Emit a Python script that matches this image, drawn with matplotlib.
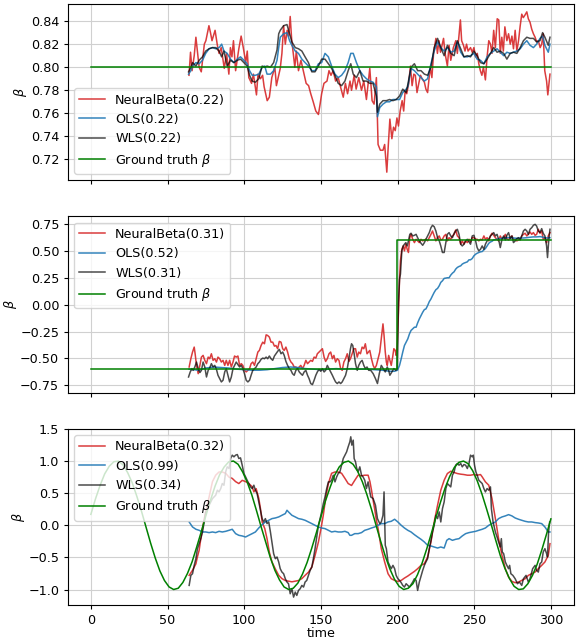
#!/usr/bin/env python3
"""Three stacked panels: estimated beta (NeuralBeta / OLS / WLS) vs ground truth over time."""

import matplotlib
matplotlib.use("Agg")
import matplotlib.pyplot as plt

OUT = "out.png"

# ---------------- panel 1: constant beta ----------------
P1_GT_T = [0, 300]
P1_GT = [0.80, 0.80]

P1_NB_T = [64, 65, 66, 67.4, 68.5, 69.5, 70.6, 72, 74, 75,
           77, 78, 79, 81, 82.5, 83.6, 85, 87, 88.5, 90,
           91, 92, 93, 94.4, 96.5, 98, 99.4, 101, 102, 103,
           104.8, 106, 108, 109, 110.6, 112, 113, 115, 116.4, 118,
           120, 121, 122.5, 123.5, 124.6, 125.7, 126.8, 128, 129, 130,
           131, 132, 133, 134, 135.4, 137, 138.7, 140.4, 142, 143.4,
           145, 146.7, 148.4, 149.5, 150.5, 152, 154, 155.3, 156.6, 158,
           159.6, 161.3, 162.8, 164.6, 166, 167.4, 169, 170, 171.7, 173,
           174.7, 176.5, 178, 179.7, 181.9, 183.4, 184.7, 186.2, 187.3, 188.8,
           190.5, 191.6, 193, 194, 195, 196.3, 197.4, 198.5, 199.6, 200.6,
           201.7, 203, 204, 205, 206, 207.3, 208.4, 209.5, 210.6, 211.6,
           212.7, 214, 215, 216, 217.5, 218.5, 219.6, 221.3, 222.4, 223.5,
           225, 226, 227, 228, 230, 231, 232.5, 233.6, 234.7, 236.4,
           238, 239, 240, 241, 241.8, 243, 244, 245, 246, 247.6,
           248.7, 249.8, 250.9, 252, 253, 254, 255, 256, 257.3, 258.4,
           259.5, 260.6, 261.6, 262.7, 263.8, 265, 266, 267, 268, 269,
           270, 271.3, 272.4, 273.5, 274.6, 275.6, 276.7, 277.8, 278.9, 280,
           281, 282, 283, 284.3, 285.3, 286.4, 287.5, 288.6, 289.7, 290.7,
           291.8, 293, 294, 295, 296, 297.2, 298, 299.4]
P1_NB = [0.793, 0.813, 0.797, 0.810, 0.826, 0.814, 0.800, 0.796, 0.820, 0.823,
         0.836, 0.830, 0.823, 0.832, 0.819, 0.812, 0.817, 0.799, 0.812, 0.794,
         0.817, 0.809, 0.823, 0.797, 0.816, 0.827, 0.817, 0.804, 0.814, 0.791,
         0.786, 0.794, 0.776, 0.794, 0.790, 0.793, 0.783, 0.771, 0.774, 0.791,
         0.800, 0.784, 0.793, 0.799, 0.812, 0.836, 0.820, 0.832, 0.827, 0.844,
         0.823, 0.812, 0.800, 0.814, 0.797, 0.806, 0.796, 0.786, 0.784, 0.777,
         0.770, 0.762, 0.759, 0.768, 0.777, 0.786, 0.788, 0.797, 0.793, 0.797,
         0.788, 0.791, 0.783, 0.774, 0.786, 0.777, 0.788, 0.780, 0.793, 0.781,
         0.791, 0.780, 0.788, 0.772, 0.799, 0.771, 0.768, 0.791, 0.733, 0.728,
         0.728, 0.733, 0.709, 0.733, 0.755, 0.738, 0.748, 0.745, 0.756, 0.749,
         0.762, 0.771, 0.762, 0.780, 0.777, 0.786, 0.801, 0.784, 0.794, 0.793,
         0.778, 0.787, 0.793, 0.790, 0.787, 0.781, 0.778, 0.800, 0.791, 0.812,
         0.825, 0.812, 0.823, 0.813, 0.825, 0.812, 0.801, 0.819, 0.806, 0.817,
         0.823, 0.812, 0.826, 0.841, 0.823, 0.819, 0.814, 0.820, 0.814, 0.817,
         0.813, 0.817, 0.809, 0.812, 0.803, 0.797, 0.793, 0.800, 0.789, 0.809,
         0.823, 0.820, 0.812, 0.832, 0.817, 0.842, 0.841, 0.812, 0.826, 0.814,
         0.835, 0.823, 0.829, 0.820, 0.827, 0.816, 0.832, 0.814, 0.823, 0.836,
         0.846, 0.843, 0.845, 0.848, 0.842, 0.839, 0.833, 0.829, 0.826, 0.822,
         0.823, 0.817, 0.820, 0.829, 0.797, 0.788, 0.776, 0.794]

P1_LS_T = [63.7, 65.2, 66.3, 68.5, 70.6, 72.8, 74.9, 77.1, 79.3, 81.4,
           83.6, 85.3, 86.8, 88.9, 91.1, 93.3, 95.5, 97.6, 99.8, 101.9,
           103.5, 105.2, 107.3, 109.5, 111.7, 113.4, 114.9, 117.1, 119.2, 121.4,
           122.5, 123.5, 125.7, 127.9, 129.6, 131.1, 133.3, 135.4, 137.6, 139.7,
           141.9, 144.1, 146.2, 148.4, 150.5, 152.7, 154.9, 157.0, 159.2, 161.3,
           163.5, 165.7, 167.8, 169.5, 171.1, 173.2, 175.4, 177.5, 179.7, 181.9,
           184.0, 186.2, 186.9, 188.4, 190.5, 192.7, 194.8, 197.0, 199.1, 201.3,
           203.4, 205.6, 206.7, 208.8, 211.0, 213.1, 215.3, 217.5, 219.6, 221.8,
           223.9, 226.1, 228.2, 230.4, 232.5, 234.7, 236.9, 239.0, 241.2, 243.3,
           245.5, 247.6, 249.8, 251.9, 254.1, 256.3, 258.4, 260.6, 262.7, 264.9,
           267.0, 269.2, 271.3, 273.5, 275.6, 277.8, 280.0, 282.1, 284.3, 286.4,
           288.6, 290.7, 292.9, 294.6, 296.1, 298.3, 299.4]
P1_OLS = [0.794, 0.797, 0.801, 0.804, 0.803, 0.806, 0.812, 0.816, 0.817, 0.816,
          0.817, 0.820, 0.814, 0.812, 0.807, 0.804, 0.807, 0.809, 0.806, 0.803,
          0.797, 0.793, 0.793, 0.794, 0.800, 0.801, 0.794, 0.794, 0.797, 0.806,
          0.817, 0.826, 0.829, 0.830, 0.823, 0.819, 0.814, 0.812, 0.807, 0.804,
          0.801, 0.797, 0.797, 0.803, 0.804, 0.812, 0.809, 0.801, 0.794, 0.791,
          0.793, 0.797, 0.804, 0.812, 0.812, 0.804, 0.797, 0.793, 0.790, 0.788,
          0.787, 0.783, 0.757, 0.765, 0.768, 0.770, 0.770, 0.772, 0.772, 0.772,
          0.778, 0.781, 0.783, 0.799, 0.797, 0.794, 0.791, 0.788, 0.790, 0.803,
          0.814, 0.822, 0.817, 0.814, 0.817, 0.813, 0.814, 0.822, 0.813, 0.809,
          0.809, 0.810, 0.812, 0.807, 0.806, 0.803, 0.809, 0.812, 0.814, 0.816,
          0.813, 0.810, 0.813, 0.812, 0.813, 0.814, 0.816, 0.820, 0.823, 0.819,
          0.817, 0.820, 0.825, 0.827, 0.819, 0.813, 0.820]
P1_WLS = [0.796, 0.800, 0.804, 0.801, 0.806, 0.809, 0.814, 0.816, 0.817, 0.817,
          0.814, 0.809, 0.814, 0.801, 0.806, 0.804, 0.806, 0.807, 0.804, 0.801,
          0.793, 0.788, 0.787, 0.790, 0.801, 0.800, 0.801, 0.800, 0.804, 0.815,
          0.829, 0.832, 0.836, 0.837, 0.829, 0.822, 0.817, 0.816, 0.814, 0.809,
          0.804, 0.796, 0.796, 0.801, 0.807, 0.807, 0.803, 0.799, 0.793, 0.786,
          0.784, 0.788, 0.797, 0.803, 0.794, 0.791, 0.797, 0.788, 0.788, 0.786,
          0.786, 0.775, 0.761, 0.768, 0.771, 0.771, 0.772, 0.771, 0.772, 0.775,
          0.781, 0.778, 0.785, 0.800, 0.803, 0.797, 0.797, 0.794, 0.793, 0.800,
          0.817, 0.825, 0.817, 0.810, 0.819, 0.812, 0.810, 0.823, 0.816, 0.809,
          0.810, 0.809, 0.814, 0.810, 0.804, 0.803, 0.807, 0.812, 0.817, 0.813,
          0.814, 0.812, 0.807, 0.812, 0.813, 0.812, 0.817, 0.823, 0.826, 0.825,
          0.825, 0.822, 0.823, 0.830, 0.826, 0.819, 0.826]

# ---------------- panel 2: step change ----------------
P2_GT_T = [0, 199.8, 199.8, 300]
P2_GT = [-0.60, -0.60, 0.60, 0.60]

P2_NB_T = [64.1, 65.2, 66.3, 67.4, 68.0, 68.9, 70.0, 71.1, 72.1, 73.2,
           74.3, 75.4, 76.5, 77.5, 78.6, 79.7, 80.8, 81.9, 82.9, 84.0,
           85.1, 86.2, 87.3, 88.3, 89.4, 90.5, 91.6, 92.7, 93.7, 94.8,
           95.9, 97.0, 98.1, 99.1, 100.2, 101.3, 102.4, 103.5, 104.5, 105.6,
           106.7, 107.8, 108.9, 109.9, 111.0, 112.1, 113.2, 114.3, 115.3, 116.4,
           117.5, 118.6, 119.7, 120.7, 121.8, 122.9, 124.0, 125.1, 126.1, 127.2,
           128.3, 129.4, 130.5, 131.5, 132.6, 133.7, 134.8, 135.9, 136.9, 138.0,
           139.1, 140.2, 141.3, 142.3, 143.4, 144.5, 145.6, 146.7, 147.7, 148.8,
           149.9, 151.0, 152.1, 153.1, 154.2, 155.3, 156.4, 157.5, 158.5, 159.6,
           160.7, 161.8, 162.9, 163.9, 165.0, 166.1, 167.2, 168.3, 169.3, 170.4,
           171.5, 172.6, 173.7, 174.7, 175.8, 176.9, 178.0, 179.0, 180.1,
           181.9, 183.0, 184.1, 185.1, 186.2, 187.3, 188.4, 189.4, 190.5, 191.2,
           192.0, 192.7, 193.3, 194.2, 195.0, 195.9, 196.8, 197.6, 198.5, 199.1,
           199.8, 200.6, 201.3, 201.9, 202.8, 203.7, 204.5, 205.4, 206.3, 207.1,
           208.0, 208.8, 209.9, 211.0, 212.1, 213.1, 214.2, 215.3, 216.4, 217.5,
           218.5, 219.6, 220.7, 221.8, 222.8, 223.9, 225.0, 226.1, 227.2, 228.2,
           229.3, 230.4, 231.5, 232.5, 233.6, 234.7, 235.8, 236.9, 237.9, 239.0,
           240.1, 241.2, 242.2, 243.3, 244.4, 245.5, 246.6, 247.6, 248.7, 249.8,
           250.9, 251.9, 253.0, 254.1, 255.2, 256.3, 257.3, 258.4, 259.5, 260.6,
           261.6, 262.7, 263.8, 264.9, 265.9, 267.0, 268.1, 269.2, 270.3, 271.3,
           272.4, 273.5, 274.6, 275.6, 276.7, 277.8, 278.9, 280.0, 281.0, 282.1,
           283.2, 284.3, 285.3, 286.4, 287.5, 288.6, 289.7, 290.7, 291.8, 292.9,
           294.0, 295.0, 296.1, 297.2, 298.3, 299.4]
P2_NB = [-0.580, -0.503, -0.441, -0.395, -0.457, -0.565, -0.642, -0.565, -0.488, -0.472,
         -0.518, -0.549, -0.488, -0.503, -0.457, -0.518, -0.503, -0.534, -0.488, -0.503,
         -0.534, -0.518, -0.565, -0.518, -0.565, -0.518, -0.580, -0.534, -0.478, -0.488,
         -0.478, -0.565, -0.549, -0.565, -0.611, -0.626, -0.611, -0.595, -0.549, -0.534,
         -0.565, -0.503, -0.441, -0.426, -0.380, -0.349, -0.364, -0.281, -0.287, -0.302,
         -0.349, -0.349, -0.386, -0.380, -0.410, -0.342, -0.349, -0.410, -0.426, -0.395,
         -0.441, -0.503, -0.534, -0.549, -0.580, -0.580, -0.595, -0.580, -0.565, -0.595,
         -0.565, -0.518, -0.549, -0.534, -0.518, -0.528, -0.488, -0.497, -0.457, -0.441,
         -0.426, -0.410, -0.488, -0.528, -0.503, -0.457, -0.441, -0.503, -0.472, -0.534,
         -0.503, -0.518, -0.595, -0.611, -0.534, -0.503, -0.457, -0.528, -0.503, -0.457,
         -0.410, -0.410, -0.488, -0.441, -0.457, -0.395, -0.410, -0.364, -0.457,
         -0.426, -0.503, -0.565, -0.595, -0.565, -0.503, -0.441, -0.318, -0.179, -0.287,
         -0.441, -0.534, -0.565, -0.472, -0.518, -0.565, -0.488, -0.410, -0.426, -0.472,
         -0.380, -0.070, 0.238, 0.407, 0.515, 0.546, 0.500, 0.562, 0.515, 0.485,
         0.623, 0.654, 0.608, 0.577, 0.608, 0.593, 0.577, 0.608, 0.593, 0.602,
         0.608, 0.593, 0.623, 0.654, 0.685, 0.639, 0.593, 0.623, 0.639, 0.602,
         0.608, 0.639, 0.654, 0.593, 0.623, 0.608, 0.639, 0.654, 0.694, 0.639,
         0.623, 0.562, 0.593, 0.562, 0.593, 0.577, 0.608, 0.583, 0.623, 0.623,
         0.608, 0.608, 0.593, 0.608, 0.602, 0.639, 0.608, 0.623, 0.593, 0.639,
         0.664, 0.645, 0.623, 0.608, 0.593, 0.639, 0.608, 0.623, 0.654, 0.614,
         0.602, 0.623, 0.639, 0.608, 0.602, 0.593, 0.602, 0.608, 0.639, 0.654,
         0.664, 0.639, 0.654, 0.676, 0.654, 0.670, 0.645, 0.654, 0.701, 0.664,
         0.685, 0.608, 0.623, 0.577, 0.639, 0.670]

P2_OLS_T = [64, 70, 75, 80, 85, 90, 95, 100, 105, 110,
            115, 120, 125, 130, 135, 140, 145, 150, 155, 160,
            165, 170, 175, 180, 185, 190, 195, 198, 200, 201.3,
            202.4, 203.4, 204.5, 205.6, 206.7, 207.8, 208.8, 209.9, 211.0, 212.1,
            213.1, 214.2, 215.3, 216.4, 217.5, 218.5, 219.6, 220.7, 221.8, 222.8,
            223.9, 225.0, 226.1, 227.2, 228.2, 229.3, 230.4, 231.5, 232.5, 233.6,
            234.7, 235.8, 236.9, 237.9, 239.0, 240.1, 241.2, 242.2, 243.3, 244.4,
            245.5, 246.6, 247.6, 248.7, 249.8, 250.9, 251.9, 253.0, 254.1, 255.2,
            256.3, 257.3, 258.4, 259.5, 260.6, 261.6, 262.7, 264.9, 267.0, 269.2,
            271.3, 273.5, 275.6, 277.8, 280.0, 282.1, 284.3, 286.4, 288.6, 290.7,
            292.9, 295.0, 297.2, 299.4]
P2_OLS = [-0.600, -0.610, -0.590, -0.580, -0.585, -0.590, -0.600, -0.605, -0.610, -0.610,
          -0.605, -0.595, -0.585, -0.580, -0.585, -0.595, -0.600, -0.605, -0.600, -0.595,
          -0.600, -0.595, -0.600, -0.600, -0.605, -0.610, -0.620, -0.620, -0.610, -0.565,
          -0.503, -0.441, -0.380, -0.349, -0.318, -0.271, -0.240, -0.225, -0.210, -0.210,
          -0.170, -0.133, -0.102, -0.071, -0.046, -0.040, -0.009, 0.028, 0.053, 0.083,
          0.114, 0.139, 0.151, 0.176, 0.207, 0.222, 0.244, 0.247, 0.250, 0.250,
          0.275, 0.293, 0.306, 0.330, 0.346, 0.355, 0.361, 0.377, 0.386, 0.392,
          0.398, 0.417, 0.417, 0.429, 0.454, 0.469, 0.478, 0.485, 0.491, 0.494,
          0.509, 0.522, 0.546, 0.571, 0.583, 0.589, 0.602, 0.608, 0.614, 0.620,
          0.623, 0.623, 0.620, 0.617, 0.620, 0.620, 0.623, 0.627, 0.630, 0.630,
          0.633, 0.627, 0.620, 0.623]

P2_WLS_T = [63.7, 64.8, 65.9, 66.7, 67.8, 68.9, 70.0, 71.1, 72.1, 73.2,
            74.3, 75.4, 76.5, 77.5, 78.6, 79.7, 80.8, 81.9, 82.9, 84.0,
            85.1, 86.2, 87.3, 88.3, 89.4, 90.5, 91.6, 92.7, 93.7, 94.8,
            95.9, 97.0, 98.1, 99.1, 100.2, 101.3, 102.4, 103.5, 104.5, 105.6,
            106.7, 107.8, 108.9, 109.9, 111.0, 112.1, 113.2, 114.3, 115.3, 116.4,
            117.5, 118.6, 119.7, 120.7, 121.8, 122.9, 124.0, 125.1, 126.1, 127.2,
            128.3, 129.4, 130.5, 131.5, 132.6, 133.7, 134.8, 135.9, 136.9, 138.0,
            139.1, 140.2, 141.3, 142.3, 143.4, 144.5, 145.6, 146.7, 147.7, 148.8,
            149.9, 151.0, 152.1, 153.1, 154.2, 155.3, 156.4, 157.5, 158.5, 159.6,
            160.7, 161.8, 162.9, 163.9, 165.0, 166.1, 167.2, 168.3, 169.3, 170.0,
            170.8, 171.7, 172.6, 173.7, 174.7, 175.8, 176.9, 178.0, 179.0, 180.1,
            181.2,
            182.5, 184.1, 185.6, 186.9, 188.1, 189.4, 190.7, 192.0, 193.3, 194.2,
            195.0, 196.3, 197.6, 198.9, 199.8, 200.6, 201.3, 201.9, 202.8, 203.7,
            204.5, 205.4, 206.3, 207.1, 208.0, 208.8, 209.9, 211.0, 212.1, 213.1,
            214.2, 215.3, 216.4, 217.5, 218.5, 219.6, 220.7, 221.8, 222.8, 223.9,
            225.0, 226.1, 227.2, 228.2, 229.3, 230.4, 231.5, 232.5, 233.6, 234.7,
            235.8, 236.9, 237.9, 239.0, 240.1, 241.2, 242.2, 243.3, 244.4, 245.5,
            246.6, 247.6, 248.7, 249.8, 250.9, 251.9, 253.0, 254.1, 255.2, 256.3,
            257.3, 258.4, 259.5, 260.6, 261.6, 262.7, 263.8, 264.9, 265.9, 267.0,
            268.1, 269.2, 270.3, 271.3, 272.4, 273.5, 274.6, 275.6, 276.7, 277.8,
            278.9, 280.0, 281.0, 282.1, 283.2, 284.3, 285.3, 286.4, 287.5, 288.6,
            289.7, 290.7, 291.8, 292.9, 294.0, 295.0, 296.1, 297.2, 297.8, 298.5,
            299.4]
P2_WLS = [-0.673, -0.626, -0.595, -0.611, -0.580, -0.534, -0.595, -0.632, -0.611, -0.534,
          -0.580, -0.673, -0.611, -0.589, -0.549, -0.580, -0.565, -0.602, -0.657, -0.688,
          -0.719, -0.703, -0.626, -0.595, -0.657, -0.719, -0.673, -0.595, -0.565, -0.534,
          -0.558, -0.580, -0.565, -0.595, -0.642, -0.703, -0.719, -0.703, -0.657, -0.611,
          -0.595, -0.580, -0.549, -0.534, -0.509, -0.497, -0.503, -0.488, -0.503, -0.478,
          -0.503, -0.518, -0.478, -0.457, -0.435, -0.416, -0.457, -0.441, -0.472, -0.528,
          -0.565, -0.595, -0.611, -0.642, -0.657, -0.611, -0.595, -0.626, -0.642, -0.657,
          -0.626, -0.611, -0.657, -0.688, -0.734, -0.744, -0.703, -0.657, -0.626, -0.602,
          -0.620, -0.595, -0.626, -0.611, -0.565, -0.595, -0.626, -0.657, -0.688, -0.719,
          -0.734, -0.719, -0.734, -0.719, -0.688, -0.657, -0.595, -0.503, -0.410, -0.364,
          -0.380, -0.457, -0.549, -0.611, -0.565, -0.534, -0.518, -0.565, -0.595, -0.580,
          -0.611,
          -0.611, -0.642, -0.688, -0.734, -0.642, -0.565, -0.595, -0.626, -0.580, -0.611,
          -0.657, -0.626, -0.595, -0.611, -0.595, 0.020, 0.238, 0.284, 0.500, 0.546,
          0.562, 0.577, 0.546, 0.593, 0.654, 0.664, 0.639, 0.645, 0.654, 0.623,
          0.593, 0.571, 0.552, 0.577, 0.608, 0.639, 0.670, 0.716, 0.738, 0.725,
          0.685, 0.623, 0.593, 0.546, 0.485, 0.485, 0.577, 0.654, 0.670, 0.639,
          0.623, 0.664, 0.685, 0.701, 0.654, 0.562, 0.546, 0.562, 0.593, 0.608,
          0.583, 0.562, 0.639, 0.645, 0.593, 0.531, 0.500, 0.515, 0.546, 0.515,
          0.562, 0.593, 0.608, 0.639, 0.654, 0.670, 0.639, 0.654, 0.608, 0.531,
          0.608, 0.639, 0.602, 0.645, 0.670, 0.614, 0.639, 0.577, 0.593, 0.614,
          0.623, 0.602, 0.639, 0.685, 0.701, 0.685, 0.654, 0.701, 0.716, 0.738,
          0.747, 0.731, 0.685, 0.670, 0.707, 0.664, 0.639, 0.546, 0.438, 0.577,
          0.701]

# ---------------- panel 3: sinusoidal beta ----------------
P3_GT_T = list(range(0, 301, 3))
P3_GT = [0.17, 0.41, 0.62, 0.80, 0.92, 0.99, 1.00, 0.94, 0.82, 0.66,
         0.45, 0.22, -0.03, -0.28, -0.51, -0.71, -0.86, -0.96, -1.00, -0.98,
         -0.89, -0.75, -0.57, -0.34, -0.10, 0.15, 0.39, 0.61, 0.79, 0.91,
         0.99, 1.00, 0.95, 0.83, 0.67, 0.47, 0.23, -0.02, -0.26, -0.50,
         -0.70, -0.85, -0.96, -1.00, -0.98, -0.90, -0.76, -0.58, -0.36, -0.12,
         0.13, 0.38, 0.59, 0.78, 0.91, 0.98, 1.00, 0.95, 0.84, 0.68,
         0.48, 0.25, 0.00, -0.25, -0.48, -0.68, -0.84, -0.95, -1.00, -0.98,
         -0.91, -0.77, -0.59, -0.37, -0.13, 0.12, 0.36, 0.58, 0.76, 0.90,
         0.98, 1.00, 0.96, 0.85, 0.69, 0.49, 0.26, 0.02, -0.23, -0.47,
         -0.67, -0.83, -0.95, -1.00, -0.99, -0.91, -0.78, -0.61, -0.39, -0.15,
         0.10]

P3_NB_T = [64.1, 66.3, 68.5, 69.5, 70.6, 71.7, 72.8, 73.9, 74.9, 77.1,
           79.3, 81.4, 83.6, 85.7, 87.9, 90.1, 92.2, 94.4, 96.5, 98.7,
           100.9, 103.0, 105.2, 106.3, 107.8, 109.5, 110.6, 111.7, 113.4, 114.9,
           116.4, 118.1, 120.3, 122.5, 124.6, 126.8, 128.9, 131.1, 133.3, 135.4,
           137.6, 139.7, 141.9, 144.1, 146.2, 148.4, 150.1, 151.6, 153.1, 154.9,
           157.0, 159.2, 161.3, 163.5, 165.7, 167.8, 170.0, 172.1, 174.3, 176.5,
           178.6, 180.8, 182.0, 183.0, 184.0, 185.1, 186.2, 187.3,
           189.4, 191.6, 193.8, 195.9, 198.1, 200.2, 202.4, 204.5, 206.7, 208.8,
           211.0, 213.1, 215.3, 217.5, 219.6, 221.8, 223.9, 226.1, 228.2, 230.4,
           232.5, 234.7, 236.9, 239.0, 241.2, 243.3, 245.5, 247.6, 249.8, 251.9,
           254.1, 255.2, 257.3, 259.5, 261.6, 263.8, 265.9, 268.1, 270.3, 272.4,
           274.6, 276.7, 278.9, 281.0, 283.2, 285.3, 287.5, 289.7, 291.8, 294.0,
           296.1, 298.3, 299.4]
P3_NB = [-0.78, -0.70, -0.60, -0.49, -0.39, -0.21, -0.05, 0.10, 0.21, 0.44,
         0.68, 0.78, 0.83, 0.83, 0.81, 0.75, 0.73, 0.68, 0.65, 0.70,
         0.68, 0.65, 0.60, 0.52, 0.57, 0.42, 0.26, 0.05, -0.05, -0.21,
         -0.42, -0.57, -0.68, -0.78, -0.83, -0.86, -0.87, -0.88, -0.87, -0.86,
         -0.83, -0.78, -0.73, -0.65, -0.47, -0.26, -0.05, 0.16, 0.42, 0.65,
         0.81, 0.83, 0.83, 0.81, 0.73, 0.65, 0.62, 0.70, 0.78, 0.77,
         0.78, 0.78, 0.68, 0.55, 0.40, 0.25, 0.08, -0.05,
         -0.364, -0.572, -0.754, -0.832, -0.858, -0.874, -0.858, -0.822, -0.790, -0.754,
         -0.718, -0.676, -0.624, -0.598, -0.494, -0.260, 0.052, 0.312, 0.546, 0.702,
         0.806, 0.842, 0.822, 0.806, 0.796, 0.790, 0.780, 0.780, 0.790, 0.780,
         0.790, 0.754, 0.676, 0.624, 0.416, 0.104, -0.208, -0.468, -0.676, -0.806,
         -0.874, -0.894, -0.884, -0.858, -0.832, -0.780, -0.754, -0.728, -0.676, -0.624,
         -0.572, -0.468, -0.286]

P3_OLS_T = [64.1, 66.3, 68.5, 70.6, 72.8, 74.9, 77.1, 79.3, 81.4, 83.6,
            85.7, 87.9, 90.1, 92.2, 94.4, 96.5, 98.7, 100.9, 103.0, 105.2,
            107.3, 109.5, 111.7, 113.8, 116.0, 118.1, 120.3, 122.5, 124.6, 126.8,
            127.9, 128.9, 131.1, 133.3, 135.4, 137.6, 139.7, 141.9, 144.1, 146.2,
            148.4, 150.5, 152.7, 154.9, 157.0, 159.2, 161.3, 163.5, 165.7, 167.8,
            168.9, 170.0, 172.1, 174.3, 176.5, 178.6, 180.8,
            183.0, 185.1, 187.3, 189.4, 191.6, 193.8, 195.9, 198.1, 200.2, 202.4,
            204.5, 206.7, 208.8, 211.0, 213.1, 215.3, 217.5, 219.6, 221.8, 223.9,
            226.1, 228.2, 230.4, 232.1, 233.6, 235.8, 237.9, 240.1, 242.2, 244.4,
            246.6, 248.7, 250.9, 253.0, 255.2, 257.3, 259.5, 261.6, 263.8, 265.9,
            268.1, 270.3, 272.4, 274.6, 276.7, 278.9, 281.0, 283.2, 285.3, 287.5,
            289.7, 291.8, 294.0, 296.1, 298.3, 299.4]
P3_OLS = [0.052, -0.026, -0.062, -0.078, -0.104, -0.104, -0.114, -0.104, -0.114, -0.094,
          -0.104, -0.094, -0.078, -0.062, -0.130, -0.156, -0.166, -0.182, -0.156, -0.130,
          -0.104, -0.042, 0.010, 0.052, 0.078, 0.104, 0.114, 0.130, 0.156, 0.182,
          0.234, 0.208, 0.156, 0.130, 0.104, 0.094, 0.078, 0.052, 0.026, 0.000,
          -0.026, -0.042, -0.052, -0.078, -0.104, -0.094, -0.104, -0.104, -0.094, -0.114,
          -0.156, -0.156, -0.130, -0.130, -0.114, -0.078, -0.062,
          -0.042, -0.026, 0.000, 0.026, 0.026, 0.052, 0.062, 0.094, 0.052, 0.000,
          -0.042, -0.078, -0.104, -0.146, -0.182, -0.218, -0.260, -0.312, -0.322, -0.338,
          -0.354, -0.338, -0.354, -0.234, -0.208, -0.234, -0.218, -0.208, -0.166, -0.130,
          -0.114, -0.104, -0.094, -0.078, -0.062, -0.042, 0.000, 0.026, 0.052, 0.104,
          0.130, 0.146, 0.166, 0.146, 0.114, 0.094, 0.078, 0.062, 0.052, 0.052,
          0.042, 0.036, 0.026, -0.026, -0.104, -0.104]

P3_WLS_T = [64.1, 65.2, 66.3, 67.4, 68.5, 69.5, 70.6, 71.7, 72.8, 73.9,
            74.9, 77.1, 79.3, 81.4, 82.5, 83.6, 84.7, 85.7, 86.8, 87.9,
            88.9, 90.1, 91.1, 92.2, 93.3, 94.4, 95.5, 96.5, 97.6, 98.7,
            99.8, 100.9, 101.9, 103.0, 104.1, 105.2, 106.3, 107.3, 108.4, 109.5,
            110.6, 111.7, 112.7, 113.8, 114.9, 116.0, 117.1, 118.1, 119.2, 120.3,
            121.4, 122.5, 123.5, 124.6, 125.7, 126.8, 127.9, 128.9, 130.0, 131.1,
            132.2, 133.3, 134.3, 135.4, 136.5, 137.6, 138.7, 139.7, 140.8, 141.9,
            143.0, 144.1, 145.1, 146.2, 147.3, 148.4, 149.5, 150.5, 151.6, 152.7,
            153.8, 154.9, 156.0, 157.0, 158.1, 159.2, 160.3, 161.3, 162.4, 163.5,
            164.6, 165.7, 166.8, 167.8, 168.9, 169.5, 170.2, 171.1, 171.7, 172.6,
            173.4, 174.3, 175.4, 176.5, 177.5, 178.6, 179.7, 180.8,
            182.5, 184.1, 185.6, 186.9, 188.4, 189.4, 190.5, 191.2, 192.0, 192.7,
            193.8, 194.8, 195.9, 197.0, 198.1, 199.1, 200.2, 201.3, 202.4, 203.4,
            204.5, 205.6, 206.7, 207.8, 208.8, 209.9, 211.0, 212.1, 213.1, 214.2,
            215.3, 216.4, 217.5, 218.5, 219.6, 220.7, 221.8, 222.8, 223.9, 225.0,
            226.1, 227.2, 228.2, 229.3, 230.4, 231.5, 232.5, 233.6, 234.7, 235.8,
            236.9, 237.9, 239.0, 240.1, 241.2, 242.2, 243.3, 244.4, 245.5, 246.6,
            247.6, 248.7, 249.4, 250.2, 251.1, 251.9, 253.0, 254.1, 255.2, 256.3,
            257.3, 258.4, 259.5, 260.6, 261.2, 262.3, 263.8, 264.9, 265.9, 267.0,
            267.7, 268.3, 269.2, 270.3, 271.3, 272.4, 273.1, 273.9, 275.2, 276.7,
            278.2, 279.5, 281.0, 282.1, 283.8, 285.3, 286.4, 288.1, 289.7, 290.7,
            291.8, 292.9, 294.0, 295.0, 296.1, 297.2, 297.8, 298.5, 299.2]
P3_WLS = [-0.936, -0.780, -0.754, -0.624, -0.520, -0.364, -0.286, -0.208, -0.104, 0.052,
          0.208, 0.312, 0.416, 0.468, 0.546, 0.520, 0.572, 0.650, 0.624, 0.832,
          0.910, 0.884, 1.040, 1.092, 1.066, 1.092, 1.102, 1.040, 1.050, 0.936,
          0.806, 0.754, 0.702, 0.650, 0.598, 0.572, 0.624, 0.546, 0.494, 0.364,
          0.234, 0.104, 0.052, 0.104, 0.026, 0.052, -0.104, -0.260, -0.442, -0.520,
          -0.494, -0.572, -0.676, -0.728, -0.754, -0.832, -0.884, -0.910, -1.066, -0.988,
          -1.118, -1.040, -1.092, -1.014, -0.988, -0.936, -0.962, -0.884, -0.858, -0.780,
          -0.702, -0.650, -0.520, -0.364, -0.182, 0.000, 0.104, 0.208, 0.338, 0.442,
          0.572, 0.676, 0.676, 0.702, 0.780, 0.676, 0.754, 0.806, 0.832, 0.936,
          1.040, 1.092, 1.144, 1.222, 1.300, 1.378, 1.248, 1.326, 1.040, 0.988,
          0.884, 0.832, 0.910, 0.780, 0.754, 0.702, 0.572, 0.676,
          0.442, 0.416, 0.312, 0.104, 0.026, 0.052, 0.156, 0.520, -0.312, -0.364,
          -0.572, -0.624, -0.676, -0.624, -0.676, -0.780, -0.832, -0.858, -0.894, -0.936,
          -0.962, -0.910, -0.936, -0.962, -0.926, -0.884, -0.832, -0.858, -1.014, -0.884,
          -0.790, -0.702, -0.624, -0.572, -0.520, -0.364, -0.234, -0.104, 0.000, 0.156,
          0.104, 0.208, 0.052, 0.260, 0.364, 0.572, 0.650, 0.624, 0.598, 0.780,
          0.832, 0.936, 0.962, 0.936, 0.962, 0.910, 0.946, 0.936, 0.884, 0.962,
          1.092, 1.066, 1.092, 0.936, 0.832, 0.780, 0.702, 0.676, 0.650, 0.572,
          0.520, 0.572, 0.546, 0.598, 0.260, 0.052, -0.104, -0.182, -0.260, -0.338,
          -0.208, -0.416, -0.442, -0.572, -0.624, -0.676, -0.624, -0.754, -0.780, -0.832,
          -0.910, -0.884, -0.936, -0.832, -0.780, -0.884, -0.832, -0.676, -0.624, -0.702,
          -0.728, -0.598, -0.572, -0.416, -0.364, -0.442, -0.494, -0.104, 0.052]

# legend scores per panel: (NeuralBeta, OLS, WLS)
SCORES = [("0.22", "0.22", "0.22"), ("0.31", "0.52", "0.31"), ("0.32", "0.99", "0.34")]
LEGEND_LOC = ["lower left", "upper left", "upper left"]
Y_TICKS = [
    [0.72, 0.74, 0.76, 0.78, 0.80, 0.82, 0.84],
    [-0.75, -0.50, -0.25, 0.00, 0.25, 0.50, 0.75],
    [-1.0, -0.5, 0.0, 0.5, 1.0, 1.5],
]
X_TICKS = [0, 50, 100, 150, 200, 250, 300]

PANELS = [
    (P1_NB_T, P1_NB, P1_LS_T, P1_OLS, P1_LS_T, P1_WLS, P1_GT_T, P1_GT),
    (P2_NB_T, P2_NB, P2_OLS_T, P2_OLS, P2_WLS_T, P2_WLS, P2_GT_T, P2_GT),
    (P3_NB_T, P3_NB, P3_OLS_T, P3_OLS, P3_WLS_T, P3_WLS, P3_GT_T, P3_GT),
]


def main():
    plt.rcParams["font.size"] = 9.2
    plt.rcParams["xtick.major.size"] = 3.2
    plt.rcParams["ytick.major.size"] = 3.2
    plt.rcParams["xtick.major.pad"] = 3.0
    plt.rcParams["ytick.major.pad"] = 3.0

    fig, axes = plt.subplots(3, 1, figsize=(5.85, 6.41), dpi=100, sharex=True)
    fig.subplots_adjust(left=0.116, right=0.981, top=0.994, bottom=0.056, hspace=0.205)

    for ax, data, scores, loc, yt in zip(axes, PANELS, SCORES, LEGEND_LOC, Y_TICKS):
        nb_t, nb, ols_t, ols, wls_t, wls, gt_t, gt = data
        ax.plot(nb_t, nb, color="tab:red", lw=1.1, alpha=0.9, label=f"NeuralBeta({scores[0]})")
        ax.plot(ols_t, ols, color="tab:blue", lw=1.1, alpha=0.9, label=f"OLS({scores[1]})")
        ax.plot(wls_t, wls, color="black", lw=1.1, alpha=0.7, label=f"WLS({scores[2]})")
        ax.plot(gt_t, gt, color="green", lw=1.1, label=r"Ground truth $\beta$")
        ax.set_yticks(yt)
        ax.set_ylabel(r"$\beta$", labelpad=1)
        ax.grid(True, color="#d0d0d0", linewidth=0.8)
        ax.legend(loc=loc)

    axes[-1].set_xticks(X_TICKS)
    axes[-1].set_xlabel("time", labelpad=0)

    fig.savefig(OUT, dpi=100)


if __name__ == "__main__":
    main()
